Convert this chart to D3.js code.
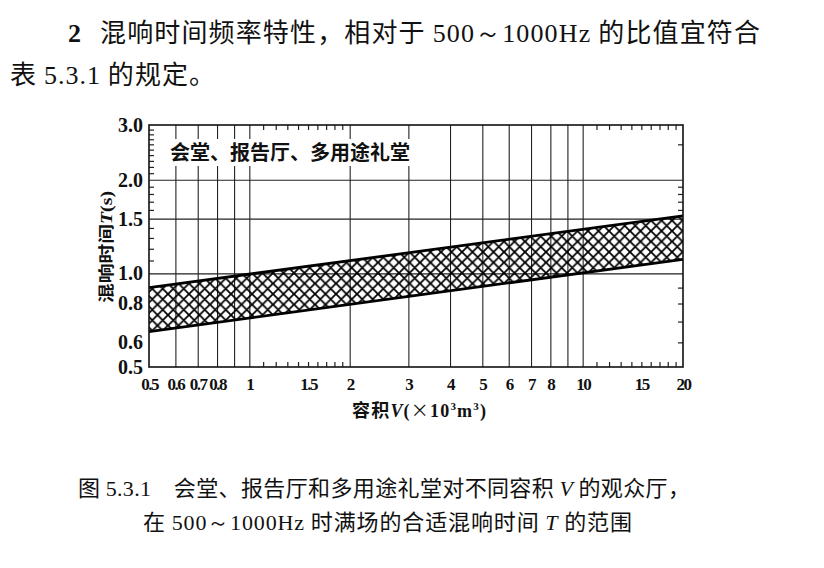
<!DOCTYPE html>
<html><head><meta charset="utf-8">
<script src="https://cdn.jsdelivr.net/npm/d3@7/dist/d3.min.js"></script>
<style>
html,body{margin:0;padding:0;background:#fff;}
svg{display:block;}
</style></head>
<body>
<svg id="c" width="824" height="568"></svg>
<script>
// ---- data ----
const xTickValues = [0.5,0.6,0.7,0.8,1,1.5,2,3,4,5,6,7,8,10,15,20];
const xTickLabels = ["0.5","0.6","0.7","0.8","1","1.5","2","3","4","5","6","7","8","10","15","20"];
const xGridValues = [0.6,0.7,0.8,0.9,1,2,3,4,5,6,7,8,9,10];
const xMinorValues = [1.1,1.2,1.3,1.4,1.5,1.6,1.7,1.8,1.9,11,12,13,14,15,16,17,18,19];
const yTickValues = [0.5,0.6,0.8,1.0,1.5,2.0,3.0];
const yTickLabels = ["0.5","0.6","0.8","1.0","1.5","2.0","3.0"];
const yGridValues = [1.0,1.5,2.0];
const yMinorLeft = [1.1,1.2,1.3,1.4,1.6,1.7,1.8,1.9,2.1,2.2,2.3,2.4,2.5,2.6,2.7,2.8,2.9];
const yMinorRight = [0.6,0.7,0.8,0.9,1.6,1.7,1.8,1.9,2.6];
const bandVolume = [0.5, 20];
const bandUpper = [0.9, 1.53];
const bandLower = [0.65, 1.11];

const svg = d3.select("#c");
const L = 149, R = 683, T = 125, B = 367;
const x = d3.scaleLog().domain([0.5,20]).range([L,R]);
const y = d3.scaleLog().domain([0.5,3]).range([B,T]);
const serif = "'Liberation Serif','DejaVu Serif',serif";
const cjk = "'Noto Sans CJK SC','Noto Sans CJK JP',sans-serif";

// ---- page text ----
svg.append("text").attr("x",68).attr("y",42).attr("font-size",26).attr("fill","#111")
  .attr("font-family",serif).attr("font-weight","bold").text("2");
const t1 = svg.append("text").attr("x",100).attr("y",42).attr("font-size",26).attr("fill","#111")
  .attr("font-family",cjk).attr("textLength",660).attr("lengthAdjust","spacing");
t1.append("tspan").text("混响时间频率特性，相对于 ");
t1.append("tspan").attr("font-family",serif).text("500～1000Hz");
t1.append("tspan").text(" 的比值宜符合");

const t2 = svg.append("text").attr("x",10).attr("y",84).attr("font-size",26).attr("fill","#111")
  .attr("font-family",cjk).attr("textLength",205).attr("lengthAdjust","spacing");
t2.append("tspan").text("表 ");
t2.append("tspan").attr("font-family",serif).text("5.3.1");
t2.append("tspan").text(" 的规定。");

const c1 = svg.append("text").attr("x",78).attr("y",496).attr("font-size",22).attr("fill","#111")
  .attr("font-family",cjk).attr("textLength",612).attr("lengthAdjust","spacing");
c1.append("tspan").text("图 ");
c1.append("tspan").attr("font-family",serif).text("5.3.1");
c1.append("tspan").text("　会堂、报告厅和多用途礼堂对不同容积 ");
c1.append("tspan").attr("font-family",serif).attr("font-style","italic").text("V");
c1.append("tspan").text(" 的观众厅，");

const c2 = svg.append("text").attr("x",143).attr("y",530).attr("font-size",22).attr("fill","#111")
  .attr("font-family",cjk).attr("textLength",489).attr("lengthAdjust","spacing");
c2.append("tspan").text("在 ");
c2.append("tspan").attr("font-family",serif).text("500～1000Hz");
c2.append("tspan").text(" 时满场的合适混响时间 ");
c2.append("tspan").attr("font-family",serif).attr("font-style","italic").text("T");
c2.append("tspan").text(" 的范围");

// ---- hatch pattern ----
const P = 10.5;
const defs = svg.append("defs");
const pat = defs.append("pattern").attr("id","hatch").attr("patternUnits","userSpaceOnUse")
  .attr("width",P).attr("height",P);
pat.append("path").attr("d",`M0,0L${P},${P}M${P},0L0,${P}M-1,${P-1}L1,${P+1}M${P-1},-1L${P+1},1M-1,1L1,-1M${P-1},${P+1}L${P+1},${P-1}`)
  .attr("stroke","#000").attr("stroke-width",1.8);
defs.append("clipPath").attr("id","clip").append("rect")
  .attr("x",L).attr("y",T).attr("width",R-L).attr("height",B-T);

// ---- grid ----
const g = svg.append("g");
g.append("g").attr("transform",`translate(0,${B})`)
  .call(d3.axisBottom(x).tickValues(xGridValues).tickSize(-(B-T)).tickFormat(""))
  .call(a=>{a.select(".domain").remove(); a.selectAll("line").attr("stroke","#222").attr("stroke-width",1.1);});
g.append("g").attr("transform",`translate(${L},0)`)
  .call(d3.axisLeft(y).tickValues(yGridValues).tickSize(-(R-L)).tickFormat(""))
  .call(a=>{a.select(".domain").remove(); a.selectAll("line").attr("stroke","#222").attr("stroke-width",1.1);});

function minor(axisFn, scale, vals, tr, size){
  g.append("g").attr("transform",tr)
   .call(axisFn(scale).tickValues(vals).tickSize(size).tickFormat(""))
   .call(a=>{a.select(".domain").remove(); a.selectAll("line").attr("stroke","#222").attr("stroke-width",1.2);});
}
minor(d3.axisBottom, x, xMinorValues, `translate(0,${B})`, -5);
minor(d3.axisTop, x, xMinorValues, `translate(0,${T})`, -5);
minor(d3.axisLeft, y, yMinorLeft, `translate(${L},0)`, -5);
minor(d3.axisRight, y, yMinorRight, `translate(${R},0)`, -5);

// ---- band ----
const upperPts = bandVolume.map((v,i)=>[v,bandUpper[i]]);
const lowerPts = bandVolume.map((v,i)=>[v,bandLower[i]]);
const area = d3.area().x(d=>x(d[0])).y0((d,i)=>y(lowerPts[i][1])).y1(d=>y(d[1]));
const bandG = svg.append("g").attr("clip-path","url(#clip)");
bandG.append("path").datum(upperPts).attr("d",area).attr("fill","url(#hatch)");
const line = d3.line().x(d=>x(d[0])).y(d=>y(d[1]));
bandG.append("path").datum(upperPts).attr("d",line).attr("stroke","#000").attr("stroke-width",2.8).attr("fill","none");
bandG.append("path").datum(lowerPts).attr("d",line).attr("stroke","#000").attr("stroke-width",2.8).attr("fill","none");

// ---- frame ----
svg.append("rect").attr("x",L).attr("y",T).attr("width",R-L).attr("height",B-T)
  .attr("fill","none").attr("stroke","#111").attr("stroke-width",1.6);

// ---- chart title ----
svg.append("rect").attr("x",164).attr("y",139).attr("width",250).attr("height",27).attr("fill","#fff");
svg.append("text").attr("x",170).attr("y",160).attr("font-family",cjk).attr("font-weight","bold")
  .attr("font-size",20).attr("fill","#111").text("会堂、报告厅、多用途礼堂");

// ---- axis labels ----
const xAx = svg.append("g").attr("transform",`translate(0,${B})`)
  .call(d3.axisBottom(x).tickValues(xTickValues).tickSize(0).tickPadding(8)
    .tickFormat((d,i)=>xTickLabels[i]));
xAx.select(".domain").remove();
xAx.selectAll("text").attr("font-family",serif).attr("font-size",17).attr("font-weight","bold")
  .attr("fill","#111").attr("letter-spacing",-1.5).attr("dy","0.9em");

const yAx = svg.append("g").attr("transform",`translate(${L},0)`)
  .call(d3.axisLeft(y).tickValues(yTickValues).tickSize(0).tickPadding(6)
    .tickFormat((d,i)=>yTickLabels[i]));
yAx.select(".domain").remove();
yAx.selectAll("text").attr("font-family",serif).attr("font-size",20).attr("font-weight","bold")
  .attr("fill","#111");

// axis titles
const xt = svg.append("text").attr("x",352).attr("y",417).attr("font-size",18).attr("fill","#111")
  .attr("font-family",cjk).attr("font-weight","bold").attr("textLength",134).attr("lengthAdjust","spacing");
xt.append("tspan").text("容积");
xt.append("tspan").attr("font-family",serif).attr("font-style","italic").text("V");
xt.append("tspan").attr("font-family",serif).text("(");
xt.append("tspan").attr("font-weight","normal").text("×");
xt.append("tspan").attr("font-family",serif).text("10");
xt.append("tspan").attr("font-family",serif).attr("font-size",11).attr("dy",-7).text("3");
xt.append("tspan").attr("font-family",serif).attr("dy",7).text("m");
xt.append("tspan").attr("font-family",serif).attr("font-size",11).attr("dy",-7).text("3");
xt.append("tspan").attr("font-family",serif).attr("dy",7).text(")");

const yt = svg.append("text").attr("transform","translate(112,247) rotate(-90)")
  .attr("text-anchor","middle").attr("font-size",16).attr("fill","#111")
  .attr("font-family",cjk).attr("font-weight","bold").attr("textLength",112).attr("lengthAdjust","spacingAndGlyphs");
yt.append("tspan").text("混响时间");
yt.append("tspan").attr("font-family",serif).attr("font-style","italic").text("T");
yt.append("tspan").attr("font-family",serif).text("(s)");
</script>
</body></html>
